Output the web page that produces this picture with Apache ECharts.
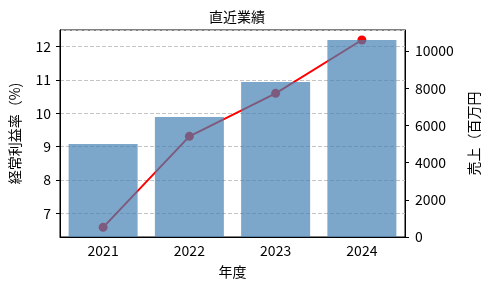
<!DOCTYPE html>
<html>
<head>
<meta charset="utf-8">
<script src="https://cdn.jsdelivr.net/npm/echarts@6/dist/echarts.min.js"></script>
<style>
  html, body { margin: 0; padding: 0; background: #fff; }
  #chart { width: 489px; height: 290px; }
</style>
</head>
<body>
<div id="chart"></div>
<script>
// 年度ごとの実績
var years = ['2021', '2022', '2023', '2024']
var sales = [5000, 6450, 8330, 10590]       // 売上（百万円） 棒
var margin = [6.58, 9.31, 10.6, 12.2]       // 経常利益率（%） 折れ線

var font = '"Noto Sans CJK JP", "DejaVu Sans", sans-serif'

var myChart = echarts.init(document.getElementById('chart'))
myChart.setOption({
  animation: false,
  textStyle: { fontFamily: font },
  title: {
    text: '直近業績',
    left: 232,
    textAlign: 'center',
    top: 5,
    textStyle: { fontFamily: font, fontSize: 14, fontWeight: 'normal', color: '#000' },
  },
  grid: {
    left: 56, right: 81, top: 30, bottom: 53,
    show: true, borderColor: '#000', borderWidth: 1,
  },
  xAxis: {
    type: 'category',
    data: years,
    name: '年度',
    nameLocation: 'middle',
    nameGap: 28,
    nameTextStyle: { fontFamily: font, fontSize: 14, color: '#000' },
    axisLine: { lineStyle: { color: '#000', width: 1 } },
    axisTick: { alignWithLabel: true, length: 4, lineStyle: { color: '#000' } },
    axisLabel: { fontFamily: font, fontSize: 14, color: '#000', margin: 7 },
    splitLine: { show: false },
  },
  yAxis: [
    {
      type: 'value',
      position: 'left',
      min: 6.29,
      max: 12.5,
      splitNumber: 6,
      name: '経常利益率（%)',
      nameLocation: 'middle',
      nameRotate: 90,
      nameGap: 38,
      nameTextStyle: { fontFamily: font, fontSize: 14, color: '#000' },
      axisLine: { show: true, lineStyle: { color: '#000' } },
      axisTick: { show: true, length: 4, lineStyle: { color: '#000' } },
      axisLabel: {
        fontFamily: font, fontSize: 14, color: '#000', margin: 9,
        showMinLabel: false, showMaxLabel: false,
        formatter: function (v) { return Number.isInteger(v) ? String(v) : '' },
      },
      splitLine: { show: true, lineStyle: { color: '#c4c4c4', type: [4, 2], width: 1 } },
    },
    {
      type: 'value',
      position: 'right',
      min: 0,
      max: 11130,
      interval: 2000,
      name: '売上（百万円',
      nameLocation: 'middle',
      nameRotate: 90,
      nameGap: 62,
      nameTextStyle: { fontFamily: font, fontSize: 14, color: '#000' },
      axisLine: { show: true, lineStyle: { color: '#000' } },
      axisTick: { show: true, length: 4, lineStyle: { color: '#000' } },
      axisLabel: {
        fontFamily: font, fontSize: 14, color: '#000', margin: 10,
        showMaxLabel: false,
        formatter: function (v) { return String(v) },
      },
      splitLine: { show: false },
    },
  ],
  series: [
    {
      name: '経常利益率',
      type: 'line',
      yAxisIndex: 0,
      data: margin,
      z: 1,
      symbol: 'circle',
      symbolSize: 9,
      itemStyle: { color: '#ff0000' },
      lineStyle: { color: '#ff0000', width: 2 },
    },
    {
      name: '売上',
      type: 'bar',
      yAxisIndex: 1,
      data: sales,
      z: 3,
      barCategoryGap: '20%',
      itemStyle: { color: '#4682b4', opacity: 0.7 },
    },
  ],
})
</script>
</body>
</html>
